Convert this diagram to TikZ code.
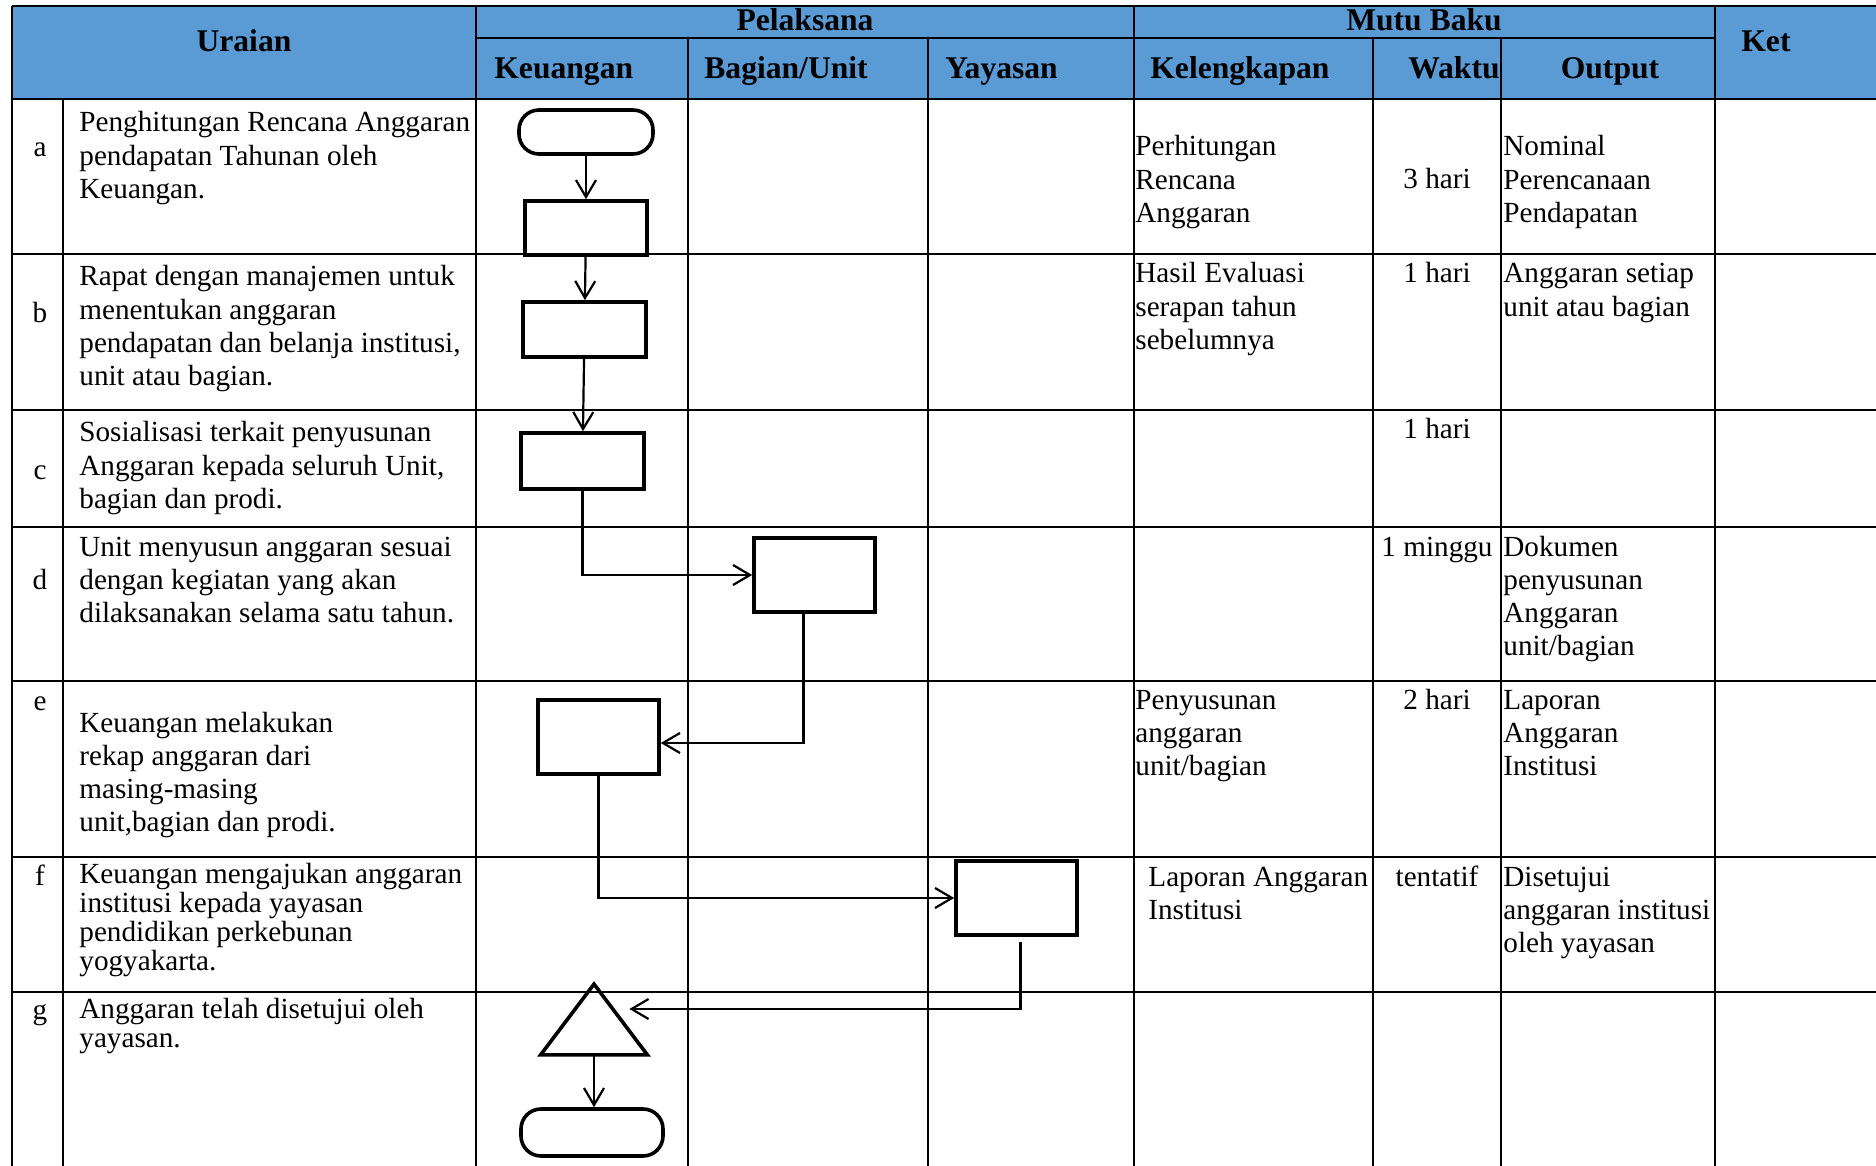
\documentclass[tikz,border=0pt]{standalone}
\usepackage{fontspec}
\setmainfont{Liberation Serif}
\usetikzlibrary{arrows.meta}

\definecolor{kepala}{RGB}{91,155,213}
\newcommand{\isi}{\fontsize{14.6pt}{16.65pt}\selectfont}
\newcommand{\isirapat}{\fontsize{14.6pt}{14.6pt}\selectfont}
\newcommand{\judul}{\fontsize{15.8pt}{18pt}\selectfont\bfseries}
\newcommand{\sel}[1]{\begin{tabular}[t]{@{}l@{}}#1\end{tabular}}

\tikzset{
    garis/.style={black, line width=0.7pt},
    proses/.style={draw, line width=1.8pt, inner sep=0pt},
    terminal/.style={proses, rounded corners=10pt},
    panah/.style={-{Straight Barb[length=8.5pt,width=10pt]}, line width=1.1pt},
    teks/.style={anchor=base west, inner sep=0pt, font=\isi},
    waktu/.style={anchor=base, inner sep=0pt, font=\isi},
    kolom/.style={anchor=base, inner sep=0pt, font=\judul},
}

\begin{document}
\begin{tikzpicture}[x=0.5pt, y=-0.5pt]
    \useasboundingbox (0,0) rectangle (1876,1166);

    % kepala tabel
    \fill[kepala] (12,6) rectangle (1876,99);
    \node[kolom] (huraian) at (244,52) {Uraian};
    \node[kolom] (hpelaksana) at (805,31) {Pelaksana};
    \node[kolom] (hmutu) at (1424,31) {Mutu Baku};
    \node[kolom, anchor=base west] (hket) at (1741,52) {Ket};
    \node[kolom, anchor=base west] (hkeu) at (494,79) {Keuangan};
    \node[kolom, anchor=base west] (hbagian) at (704,79) {Bagian/Unit};
    \node[kolom, anchor=base west] (hyayasan) at (945,79) {Yayasan};
    \node[kolom, anchor=base west] (hlengkap) at (1150,79) {Kelengkapan};
    \node[kolom, anchor=base east] (hwaktu) at (1500,79) {Waktu};
    \node[kolom] (houtput) at (1610,79) {Output};

    % garis tabel
    \draw[garis] (12,6) -- (1876,6);
    \draw[garis] (476,38) -- (1715,38);
    \draw[garis] (12,99) -- (1876,99);
    \draw[garis] (12,254) -- (1876,254);
    \draw[garis] (12,410) -- (1876,410);
    \draw[garis] (12,527) -- (1876,527);
    \draw[garis] (12,681) -- (1876,681);
    \draw[garis] (12,857) -- (1876,857);
    \draw[garis] (12,992) -- (1876,992);
    \draw[garis] (12,6) -- (12,1166);
    \draw[garis] (63,99) -- (63,1166);
    \draw[garis] (476,6) -- (476,1166);
    \draw[garis] (688,38) -- (688,1166);
    \draw[garis] (928,38) -- (928,1166);
    \draw[garis] (1134,6) -- (1134,1166);
    \draw[garis] (1373,38) -- (1373,1166);
    \draw[garis] (1501,38) -- (1501,1166);
    \draw[garis] (1715,6) -- (1715,1166);

    % huruf langkah
    \node[waktu] (la) at (40,157) {a};
    \node[waktu] (lb) at (40,323) {b};
    \node[waktu] (lc) at (40,480) {c};
    \node[waktu] (ld) at (40,589) {d};
    \node[waktu] (le) at (40,710) {e};
    \node[waktu] (lf) at (40,885) {f};
    \node[waktu] (lg) at (40,1019) {g};

    % uraian
    \node[teks] (ua) at (79,132) {\sel{Penghitungan Rencana Anggaran\\pendapatan Tahunan oleh\\Keuangan.}};
    \node[teks] (ub) at (79,286) {\sel{Rapat dengan manajemen untuk\\menentukan anggaran\\pendapatan dan belanja institusi,\\unit atau bagian.}};
    \node[teks] (uc) at (79,442) {\sel{Sosialisasi terkait penyusunan\\Anggaran kepada seluruh Unit,\\bagian dan prodi.}};
    \node[teks] (ud) at (79,556) {\sel{Unit menyusun anggaran sesuai\\dengan kegiatan yang akan\\dilaksanakan selama satu tahun.}};
    \node[teks] (ue) at (79,732) {\sel{Keuangan melakukan\\rekap anggaran dari\\masing-masing\\unit,bagian dan prodi.}};
    \node[teks, font=\isirapat] (uf) at (79,883) {\sel{Keuangan mengajukan anggaran\\institusi kepada yayasan\\pendidikan perkebunan\\yogyakarta.}};
    \node[teks, font=\isirapat] (ug) at (79,1018) {\sel{Anggaran telah disetujui oleh\\yayasan.}};

    % kelengkapan
    \node[teks] (ka) at (1135,156) {\sel{Perhitungan\\Rencana\\Anggaran}};
    \node[teks] (kb) at (1135,283) {\sel{Hasil Evaluasi\\serapan tahun\\sebelumnya}};
    \node[teks] (ke) at (1135,709) {\sel{Penyusunan\\anggaran\\unit/bagian}};
    \node[teks] (kf) at (1148,886) {\sel{Laporan Anggaran\\Institusi}};

    % waktu
    \node[waktu] (wa) at (1437,189) {3 hari};
    \node[waktu] (wb) at (1437,283) {1 hari};
    \node[waktu] (wc) at (1437,438) {1 hari};
    \node[waktu] (wd) at (1437,556) {1 minggu};
    \node[waktu] (we) at (1437,709) {2 hari};
    \node[waktu] (wf) at (1437,886) {tentatif};

    % output
    \node[teks] (oa) at (1503,156) {\sel{Nominal\\Perencanaan\\Pendapatan}};
    \node[teks] (ob) at (1503,283) {\sel{Anggaran setiap\\unit atau bagian}};
    \node[teks] (od) at (1503,556) {\sel{Dokumen\\penyusunan\\Anggaran\\unit/bagian}};
    \node[teks] (oe) at (1503,709) {\sel{Laporan\\Anggaran\\Institusi}};
    \node[teks] (of) at (1503,886) {\sel{Disetujui\\anggaran institusi\\oleh yayasan}};

    % bagan alir
    \node[terminal, minimum width=67pt, minimum height=22pt] (mulai) at (586,132) {};
    \node[proses, minimum width=61pt, minimum height=27pt] (hitung) at (586,228) {};
    \node[proses, minimum width=61.5pt, minimum height=27.5pt] (rapat) at (584.5,329.5) {};
    \node[proses, minimum width=61.5pt, minimum height=28pt] (sosialisasi) at (582.5,461) {};
    \node[proses, minimum width=60.5pt, minimum height=37pt] (susun) at (814.5,575) {};
    \node[proses, minimum width=60.5pt, minimum height=37pt] (rekap) at (598.5,737) {};
    \node[proses, minimum width=60.5pt, minimum height=37pt] (ajukan) at (1016.5,898) {};
    \node[inner sep=0pt, minimum width=53pt, minimum height=35pt] (setuju) at (594,1019.5) {};
    \draw[line width=1.8pt] (setuju.north) -- (setuju.south east) -- (setuju.south west) -- cycle;
    \node[terminal, minimum width=71pt, minimum height=23.5pt] (selesai) at (592,1132.5) {};

    \draw[panah] (mulai) -- (hitung);
    \draw[panah] (hitung) -- (rapat);
    \draw[panah] (rapat) -- (sosialisasi);
    \draw[panah] (sosialisasi.south) |- (susun.west);
    \draw[panah] ([xshift=-5.5pt]susun.south) |- ([yshift=-3pt]rekap.east);
    \draw[panah] (rekap.south) |- (ajukan.west);
    \draw[panah] ([xshift=2pt,yshift=-2.5pt]ajukan.south) |- ([xshift=-9pt,yshift=5.25pt]setuju.east);
    \draw[panah] (setuju.south) -- (setuju.south |- selesai.north);
\end{tikzpicture}
\end{document}
